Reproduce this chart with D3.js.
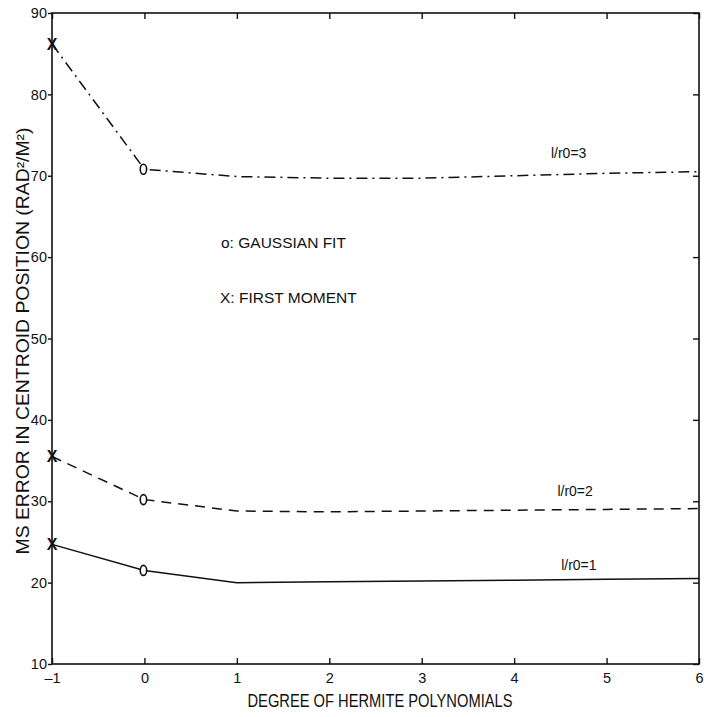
<!doctype html>
<html lang="en">
<head>
<meta charset="utf-8">
<title>MS error vs Hermite degree</title>
<style>
html, body {
	margin: 0;
	padding: 0;
	background: #fff;
}
svg text {
	font-family: 'Liberation Sans', Arial, Helvetica, sans-serif;
	fill: #111;
}
</style>
</head>
<body>
<div id="chart"></div>
<script src="https://cdn.jsdelivr.net/npm/d3@7/dist/d3.min.js"></script>
<script>
// x: degree of Hermite polynomials (-1 = first moment, 0 = gaussian fit)
var degrees = [-1, 0, 1, 2, 3, 4, 5, 6];
var ratio1 = [24.7, 21.5, 20.0, 20.1, 20.2, 20.3, 20.4, 20.5];
var ratio2 = [35.5, 30.2, 28.8, 28.7, 28.8, 28.9, 29.0, 29.1];
var ratio3 = [86.2, 70.8, 69.9, 69.7, 69.7, 70.0, 70.3, 70.5];
var seriesNames = ['l/r0=1', 'l/r0=2', 'l/r0=3'];
var xTicks = [-1, 0, 1, 2, 3, 4, 5, 6];
var yTicks = [10, 20, 30, 40, 50, 60, 70, 80, 90];

(function (d3) {
	'use strict';

	var W = 708, H = 717;
	var left = 52, right = 699, top = 13, bottom = 664;

	var x = d3.scaleLinear().domain([-1, 6]).range([left, right]);
	var y = d3.scaleLinear().domain([10, 90]).range([bottom, top]);

	var svg = d3.select('#chart').append('svg')
		.attr('width', W)
		.attr('height', H);

	// frame
	svg.append('rect')
		.attr('x', left).attr('y', top)
		.attr('width', right - left).attr('height', bottom - top)
		.attr('fill', 'none').attr('stroke', '#111').attr('stroke-width', 1.6);

	// axes (ticks inward, left ones stick out a little as in the scan)
	var fmt = function (d) { return d < 0 ? '\u2013' + Math.abs(d) : d; };
	var xb = svg.append('g').attr('transform', 'translate(0,' + bottom + ')')
		.call(d3.axisBottom(x).tickValues(xTicks).tickSizeInner(-6).tickSizeOuter(0).tickPadding(9).tickFormat(fmt));
	var xt = svg.append('g').attr('transform', 'translate(0,' + top + ')')
		.call(d3.axisTop(x).tickValues(xTicks).tickSizeInner(-6).tickSizeOuter(0).tickFormat(''));
	var yl = svg.append('g').attr('transform', 'translate(' + left + ',0)')
		.call(d3.axisLeft(y).tickValues(yTicks).tickSizeInner(4).tickSizeOuter(0).tickPadding(1));
	var yr = svg.append('g').attr('transform', 'translate(' + right + ',0)')
		.call(d3.axisRight(y).tickValues(yTicks).tickSizeInner(-6).tickSizeOuter(0).tickFormat(''));

	[xb, xt, yl, yr].forEach(function (g) {
		g.select('.domain').remove();
		g.selectAll('line').attr('stroke', '#111').attr('stroke-width', 1.4);
		g.selectAll('text').attr('font-size', 14.5).attr('fill', '#111')
			.style('font-family', "'Liberation Sans', Arial, sans-serif");
	});

	// axis titles, squeezed to the condensed look of the original
	svg.append('text')
		.attr('x', 380).attr('y', 707)
		.attr('text-anchor', 'middle')
		.attr('font-size', 18)
		.attr('textLength', 265)
		.attr('lengthAdjust', 'spacingAndGlyphs')
		.text('DEGREE OF HERMITE POLYNOMIALS');

	svg.append('text')
		.attr('transform', 'translate(29,341) rotate(-90)')
		.attr('x', 0).attr('y', 0)
		.attr('text-anchor', 'middle')
		.attr('font-size', 18)
		.attr('textLength', 427)
		.attr('lengthAdjust', 'spacingAndGlyphs')
		.text('MS ERROR IN CENTROID POSITION (RAD\u00b2/M\u00b2)');

	// lines
	var series = [
		{ name: seriesNames[0], values: ratio1, dash: null },
		{ name: seriesNames[1], values: ratio2, dash: '10,7' },
		{ name: seriesNames[2], values: ratio3, dash: '11,5,2,5' }
	];

	var line = d3.line()
		.x(function (d, i) { return x(degrees[i]); })
		.y(function (d) { return y(d); });

	svg.selectAll('path.series').data(series).enter()
		.append('path')
		.attr('class', 'series')
		.attr('d', function (d) { return line(d.values); })
		.attr('fill', 'none')
		.attr('stroke', '#111')
		.attr('stroke-width', 1.5)
		.attr('stroke-dasharray', function (d) { return d.dash; });

	// markers: X at first moment (degree -1), o at gaussian fit (degree 0)
	svg.selectAll('text.xmark').data(series).enter()
		.append('text')
		.attr('class', 'xmark')
		.attr('x', x(-1))
		.attr('y', function (d) { return y(d.values[0]) + 6; })
		.attr('text-anchor', 'middle')
		.attr('font-size', 16)
		.attr('font-weight', 'bold')
		.text('X');

	svg.selectAll('ellipse.omark').data(series).enter()
		.append('ellipse')
		.attr('class', 'omark')
		.attr('cx', x(0) - 1)
		.attr('cy', function (d) { return y(d.values[1]); })
		.attr('rx', 3.2)
		.attr('ry', 5)
		.attr('fill', '#fff')
		.attr('stroke', '#111')
		.attr('stroke-width', 1.6);

	// curve labels
	var labelPos = [
		{ dx: 4.70, v: 21.55 },
		{ dx: 4.66, v: 30.6 },
		{ dx: 4.59, v: 72.2 }
	];
	svg.selectAll('text.lbl').data(series).enter()
		.append('text')
		.attr('class', 'lbl')
		.attr('x', function (d, i) { return x(labelPos[i].dx); })
		.attr('y', function (d, i) { return y(labelPos[i].v); })
		.attr('text-anchor', 'middle')
		.attr('font-size', 14)
		.text(function (d) { return d.name; });

	// legend notes
	svg.append('text').attr('x', 221).attr('y', 248).attr('font-size', 15.5).text('o: GAUSSIAN FIT');
	svg.append('text').attr('x', 220).attr('y', 303).attr('font-size', 15.5).text('X: FIRST MOMENT');

})(window.d3);
</script>
</body>
</html>
